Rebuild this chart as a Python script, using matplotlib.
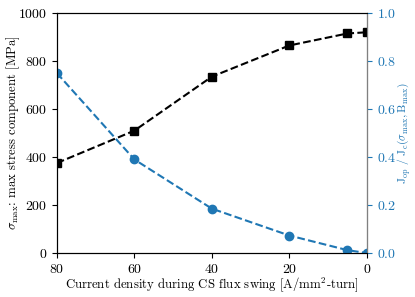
import matplotlib
matplotlib.use('Agg')
import matplotlib.pyplot as plt

# current density during CS flux swing [A/mm^2-turn]
current_density = [80, 60, 40, 20, 5, 0]
# max stress component [MPa]
sigma_max = [375, 510, 735, 865, 915, 920]
# Jop / Jc(sigma_max, B_max)
j_ratio = [0.75, 0.39, 0.185, 0.073, 0.012, 0.0]

plt.rcParams['font.family'] = 'serif'
plt.rcParams['font.serif'] = ['cmr10']
plt.rcParams['mathtext.fontset'] = 'cm'
plt.rcParams['axes.formatter.use_mathtext'] = True
plt.rcParams['font.size'] = 10

blue = '#1f77b4'
label_size = 9.2

fig, ax = plt.subplots(figsize=(4.15, 2.97), dpi=100)
fig.subplots_adjust(left=0.137, right=0.884, top=0.956, bottom=0.148)

ax.plot(current_density, sigma_max, 's--', color='black', markersize=6)
ax.set_xlim(80, 0)
ax.set_ylim(0, 1000)
ax.set_xlabel(r'Current density during CS flux swing [A/mm$^2$-turn]',
              fontsize=label_size, labelpad=0)
ax.set_ylabel(r'$\sigma_{\rm max}$: max stress component [MPa]',
              fontsize=label_size, labelpad=-3)

ax2 = ax.twinx()
ax2.plot(current_density, j_ratio, 'o--', color=blue, markersize=6)
ax2.set_ylim(0, 1.0)
ax2.set_ylabel(r'$\rm J_{op}\ /\ J_c(\sigma_{max}, B_{max})$', color=blue,
               fontsize=8.4, labelpad=0)
ax2.tick_params(axis='y', colors=blue)
ax2.spines['right'].set_color('grey')

fig.savefig('out.png', dpi=100)
